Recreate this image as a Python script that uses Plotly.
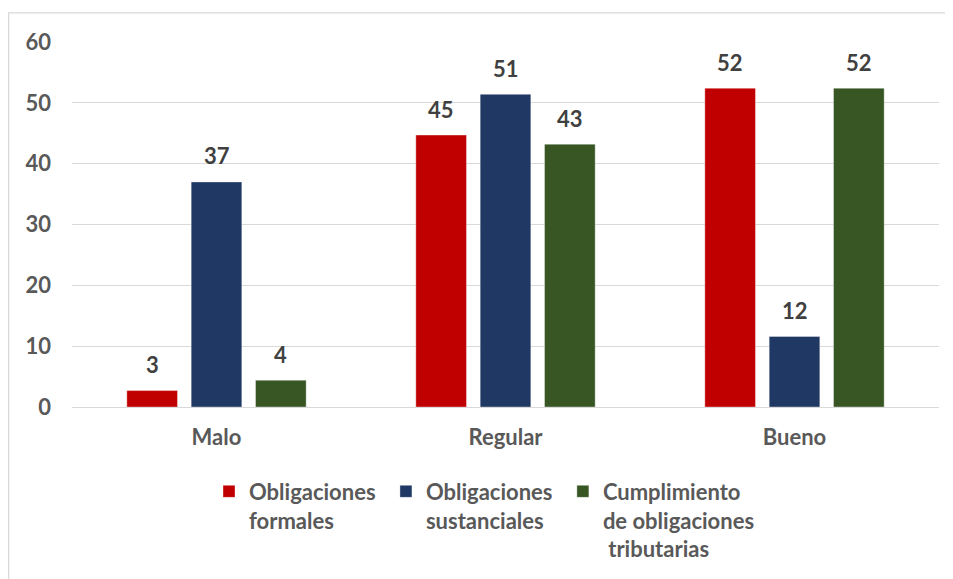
import plotly.graph_objects as go

# Data
categories = ["Malo", "Regular", "Bueno"]
series_names = ["Obligaciones\u00a0<br>formales",
                "Obligaciones\u00a0<br>sustanciales",
                "Cumplimiento<br>de obligaciones<br>\u00a0tributarias"]
formales = [2.7, 44.7, 52.4]
sustanciales = [37.0, 51.4, 11.6]
cumplimiento = [4.4, 43.2, 52.4]
y_ticks = [0, 10, 20, 30, 40, 50, 60]

COLORS = ["#C00000", "#203864", "#375623"]
FONT = "Lato"
FS = 22

# Page is 953x579 but the figure div sits 8px in from the body edge
OFF = 8
W, H = 953 - OFF, 579 - OFF
# plot area in page pixels: x 72..939, y 41.5..407.3
L, R, T, B = 72 - OFF, 14, 41.5 - OFF, 579 - 407.3
plot_w = W - L - R
plot_h = H - T - B
BARGAP = 0.332
BARGROUPGAP = 0.213


def px_x(px):
    # page pixel -> paper x
    return (px - OFF - L) / plot_w


def px_y(py):
    # page pixel -> paper y
    return (H - B - (py - OFF)) / plot_h


fig = go.Figure()
all_series = [formales, sustanciales, cumplimiento]
for name, vals, col in zip(series_names, all_series, COLORS):
    fig.add_trace(go.Bar(x=categories, y=vals, name=name,
                         marker=dict(color=col, line=dict(color="rgba(255,255,255,0.6)", width=0.6))))

# Data labels, placed above each bar
slot = plot_w / len(categories) * (1 - BARGAP) / len(all_series)
for i, vals in enumerate(all_series):
    shift = (i - 1) * slot
    for cat, v in zip(categories, vals):
        fig.add_annotation(x=cat, y=v, text=f"{v:.0f}", showarrow=False,
                           xshift=shift, yshift=26, yanchor="middle",
                           font=dict(family=FONT, size=FS, color="#404040", weight="bold"))

# Chart border (light frame, cut off on right and bottom)
fig.add_shape(type="rect", xref="paper", yref="paper",
              x0=px_x(8.6), y0=px_y(12.3), x1=px_x(980), y1=px_y(620),
              line=dict(color="#D9D9D9", width=1.3), layer="below")

fig.update_layout(
    width=W, height=H,
    margin=dict(l=L, r=R, t=T, b=B, autoexpand=False),
    barmode="group", bargap=BARGAP, bargroupgap=BARGROUPGAP,
    plot_bgcolor="white", paper_bgcolor="white",
    font=dict(family=FONT, size=FS, color="#595959", weight="bold"),
    xaxis=dict(showgrid=False, showline=False, zeroline=False, ticks="",
               ticklabelstandoff=15, tickfont=dict(size=FS, weight="bold")),
    yaxis=dict(range=[0, 60], tickvals=y_ticks, showgrid=True, gridcolor="#D9D9D9",
               gridwidth=1.3, zeroline=True, zerolinecolor="#D9D9D9", zerolinewidth=1.3,
               showline=False, ticks="", ticklabelstandoff=20,
               tickfont=dict(size=FS, weight="bold")),
    legend=dict(orientation="h", x=px_x(209), y=px_y(471), xanchor="left", yanchor="top",
                valign="top", font=dict(size=FS, color="#595959", weight="bold"),
                traceorder="normal", itemclick=False),
    showlegend=True,
)

fig.write_html("out.html")
